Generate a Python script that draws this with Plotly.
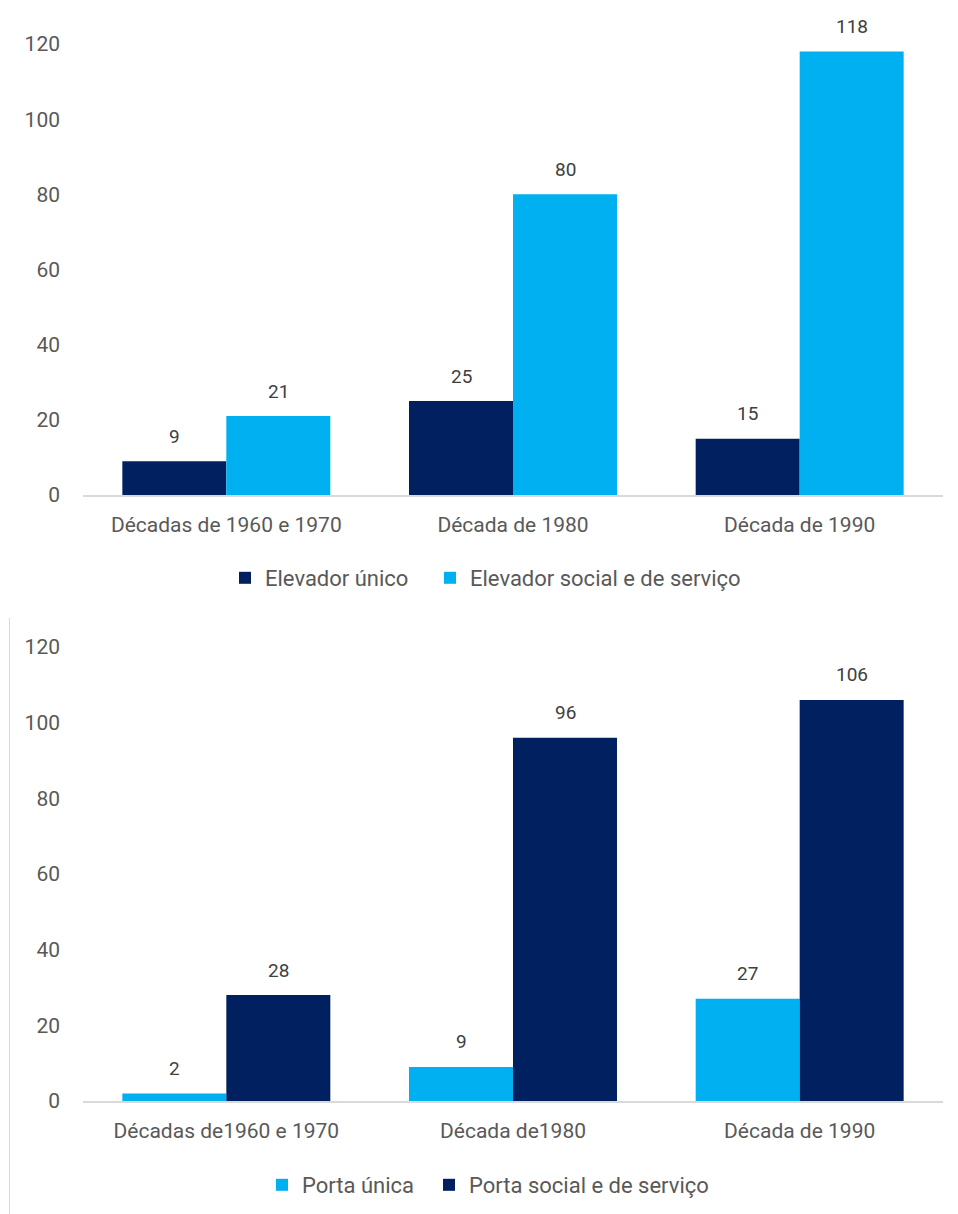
import plotly.graph_objects as go

# Chart 1 data
cats1 = ["Décadas de 1960 e 1970", "Década de 1980", "Década de 1990"]
elev_unico = [9, 25, 15]
elev_social = [21, 80, 118]

# Chart 2 data
cats2 = ["Décadas de1960 e 1970", "Década de1980", "Década de 1990"]
porta_unica = [2, 9, 27]
porta_social = [28, 96, 106]

yticks = [0, 20, 40, 60, 80, 100, 120]

NAVY = "#002060"
LIGHT = "#00B0F0"
FONT = "Roboto"
TICKCOL = "#595959"
LABCOL = "#404040"

W, H = 958, 1214

def py(p):
    return (H - p) / H

fig = go.Figure()

fig.add_trace(go.Bar(x=cats1, y=elev_unico, name="Elevador único", marker_color=NAVY,
                     marker_line_width=0, xaxis="x", yaxis="y", legend="legend"))
fig.add_trace(go.Bar(x=cats1, y=elev_social, name="Elevador social e de serviço", marker_color=LIGHT,
                     marker_line_width=0, xaxis="x", yaxis="y", legend="legend2"))
fig.add_trace(go.Bar(x=cats2, y=porta_unica, name="Porta única", marker_color=LIGHT,
                     marker_line_width=0, xaxis="x2", yaxis="y2", legend="legend3"))
fig.add_trace(go.Bar(x=cats2, y=porta_social, name="Porta social e de serviço", marker_color=NAVY,
                     marker_line_width=0, xaxis="x2", yaxis="y2", legend="legend4"))

annotations = []
for xa, ya, cats, series in [("x", "y", cats1, [elev_unico, elev_social]),
                             ("x2", "y2", cats2, [porta_unica, porta_social])]:
    for si, vals in enumerate(series):
        shift = -52 if si == 0 else 52
        for c, v in zip(cats, vals):
            annotations.append(dict(x=c, y=v, xref=xa, yref=ya, text=str(v), showarrow=False,
                                    xshift=shift, yshift=25, yanchor="middle",
                                    font=dict(family=FONT, size=19, color=LABCOL)))

xdom = [83 / W, 943 / W]
axis_common_x = dict(showgrid=False, showline=True, linecolor="#D9D9D9", linewidth=1.5,
                     ticks="", tickfont=dict(family=FONT, size=21, color=TICKCOL),
                     ticklabelstandoff=10, domain=xdom, fixedrange=True)
axis_common_y = dict(showgrid=False, showline=False, zeroline=False, range=[0, 120],
                     tickvals=yticks, ticks="", tickfont=dict(family=FONT, size=21, color=TICKCOL),
                     ticklabelstandoff=22)

def leg(text_left_px, center_px):
    return dict(orientation="h", x=(text_left_px - 40) / W, xanchor="left",
                y=py(center_px), yanchor="middle",
                font=dict(family=FONT, size=22, color=TICKCOL), bgcolor="rgba(0,0,0,0)")

fig.update_layout(
    width=W, height=H,
    margin=dict(l=0, r=0, t=0, b=0, autoexpand=False),
    paper_bgcolor="white", plot_bgcolor="white",
    barmode="group", bargap=0.2745, bargroupgap=0,
    font=dict(family=FONT, color=TICKCOL),
    xaxis=dict(anchor="y", **axis_common_x),
    yaxis=dict(anchor="x", domain=[py(495), py(44)], **axis_common_y),
    xaxis2=dict(anchor="y2", **axis_common_x),
    yaxis2=dict(anchor="x2", domain=[py(1101), py(647)], **axis_common_y),
    legend=leg(265, 578),
    legend2=leg(470, 578),
    legend3=leg(302, 1185),
    legend4=leg(469, 1185),
    annotations=annotations,
    shapes=[dict(type="line", xref="paper", yref="paper", x0=9.5 / W, x1=9.5 / W,
                 y0=0, y1=py(618), line=dict(color="#D9D9D9", width=1))],
    showlegend=True,
)

fig.write_html("out.html")
